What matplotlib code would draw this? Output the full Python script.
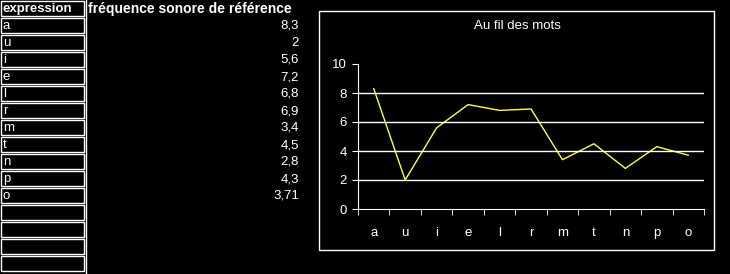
import matplotlib
matplotlib.use("Agg")
from matplotlib import pyplot as plt
from matplotlib.patches import Rectangle
import numpy as np

plt.rcParams['font.family'] = ['Liberation Sans', 'DejaVu Sans']

# table data
header_expr = "expression"
header_freq = "fréquence sonore de référence"
expressions = ["a", "u", "i", "e", "l", "r", "m", "t", "n", "p", "o"]
frequences = [8.3, 2, 5.6, 7.2, 6.8, 6.9, 3.4, 4.5, 2.8, 4.3, 3.71]
freq_labels = ["8,3", "2", "5,6", "7,2", "6,8", "6,9", "3,4", "4,5", "2,8", "4,3", "3,71"]
n_empty = 4
title = "Au fil des mots"
yticks = [0, 2, 4, 6, 8, 10]

W, H = 730, 274
fig = plt.figure(figsize=(W / 100, H / 100), dpi=100, facecolor="black")

def fx(px):
	return px / W

def fy(py):
	return 1 - py / H

# left table
row_h = 17
nrows = 1 + len(expressions) + n_empty
for i in range(nrows):
	top = i * row_h
	fig.add_artist(Rectangle((fx(1), fy(top + row_h - 1)), fx(83), (row_h - 2) / H,
		transform=fig.transFigure, facecolor="black", edgecolor="white", lw=1))
fig.add_artist(plt.Line2D([fx(85.5), fx(85.5)], [0, 1], transform=fig.transFigure, color="white", lw=1))

fig.text(fx(3), fy(9), header_expr, color="white", fontsize=9.5, fontweight="bold", va="center")
fig.text(fx(88), fy(9), header_freq, color="white", fontsize=10, fontweight="bold", va="center")
for i, (e, f) in enumerate(zip(expressions, freq_labels)):
	yc = fy((i + 1) * row_h + 9)
	fig.text(fx(3), yc, e, color="white", fontsize=9.5, va="center")
	fig.text(fx(299), yc, f, color="white", fontsize=9.5, va="center", ha="right")

# chart frame
fig.add_artist(Rectangle((fx(319), fy(250)), fx(714 - 319), (250 - 11) / H,
	transform=fig.transFigure, facecolor="none", edgecolor="white", lw=1))
fig.text(fx(517), fy(26), title, color="white", fontsize=9.5, ha="center", va="center")

ax = fig.add_axes([fx(358), fy(209), fx(704 - 358), (209 - 64) / H])
ax.set_facecolor("none")
x = np.arange(len(expressions))
ax.plot(x, frequences, color="#ffff40", lw=1)
ax.set_xlim(-0.5, len(expressions) - 0.5)
ax.set_ylim(0, 10)
for v in yticks[1:-1]:
	ax.axhline(v, color="white", lw=1)
for s in ["top", "right"]:
	ax.spines[s].set_visible(False)
for s in ["left", "bottom"]:
	ax.spines[s].set_color("white")
ax.set_yticks(yticks)
ax.set_xticks(x)
ax.set_xticklabels(expressions)
ax.set_xticks(np.arange(-0.5, len(expressions)), minor=True)
ax.tick_params(axis="x", which="major", length=0, pad=13, colors="white", labelsize=9.5)
ax.tick_params(axis="x", which="minor", length=4, color="white", direction="out")
ax.tick_params(axis="y", length=4, color="white", colors="white", labelsize=9.5, pad=4)

fig.savefig("out.png", dpi=100, facecolor="black")
